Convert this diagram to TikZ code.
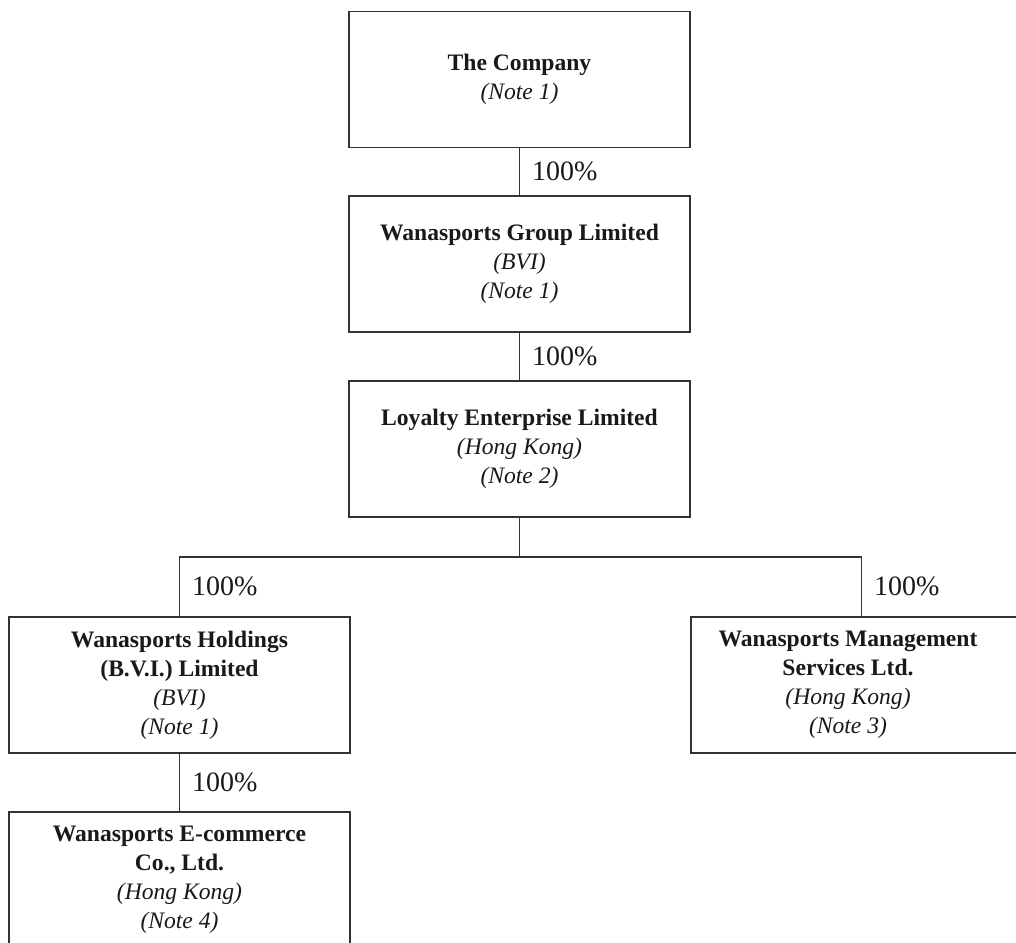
\documentclass[tikz,border=0pt]{standalone}
\usepackage{fontspec}
\setmainfont{Liberation Serif}

\begin{document}
\begin{tikzpicture}[x=0.5pt, y=-0.5pt,
  entity/.style={draw=black!80, line width=0.6pt, fill=white,
    minimum width=170.5pt, minimum height=68pt, align=center, inner sep=2pt,
    font=\fontsize{11.8}{14.5}\selectfont, text=black!90},
  entitytext/.style={align=center, inner sep=0pt,
    font=\fontsize{11.8}{14.5}\selectfont, text=black!90},
  pct/.style={anchor=west, inner sep=0pt, xshift=6pt,
    font=\fontsize{14}{16}\selectfont, text=black!90},
  link/.style={draw=black!80, line width=0.6pt}
]
  \useasboundingbox (0,0) rectangle (1016,942);
  \clip (0,0) rectangle (1016,942);
  \node[entity] (comp) at (519.5,79.5) {\textbf{The Company}\\\textit{(Note 1)}};
  \node[entity] (group) at (519.5,264) {\textbf{Wanasports Group Limited}\\\textit{(BVI)}\\\textit{(Note 1)}};
  \node[entity] (loyalty) at (519.5,449) {\textbf{Loyalty Enterprise Limited}\\\textit{(Hong Kong)}\\\textit{(Note 2)}};
  \node[entity] (holdings) at (179.5,685) {\textbf{Wanasports Holdings}\\\textbf{(B.V.I.) Limited}\\\textit{(BVI)}\\\textit{(Note 1)}};
  \node[entity, label={[entitytext, xshift=-6.75pt]center:{\textbf{Wanasports Management}\\\textbf{Services Ltd.}\\\textit{(Hong Kong)}\\\textit{(Note 3)}}}] (mgmt) at (861.5,685) {};
  \node[entity] (ecom) at (179.5,880) {\textbf{Wanasports E-commerce}\\\textbf{Co., Ltd.}\\\textit{(Hong Kong)}\\\textit{(Note 4)}};
  \coordinate (bus) at (519.5,557);
  % shareholdings
  \draw[link] (comp) -- node[pct]{100\%} (group);
  \draw[link] (group) -- node[pct]{100\%} (loyalty);
  \draw[link] (loyalty) -- (bus);
  \draw[link] (holdings.north) |- node[pct, pos=0.25]{100\%} (bus);
  \draw[link] (bus) -| node[pct, pos=0.75]{100\%} (mgmt.north);
  \draw[link] (holdings) -- node[pct]{100\%} (ecom);
\end{tikzpicture}
\end{document}
